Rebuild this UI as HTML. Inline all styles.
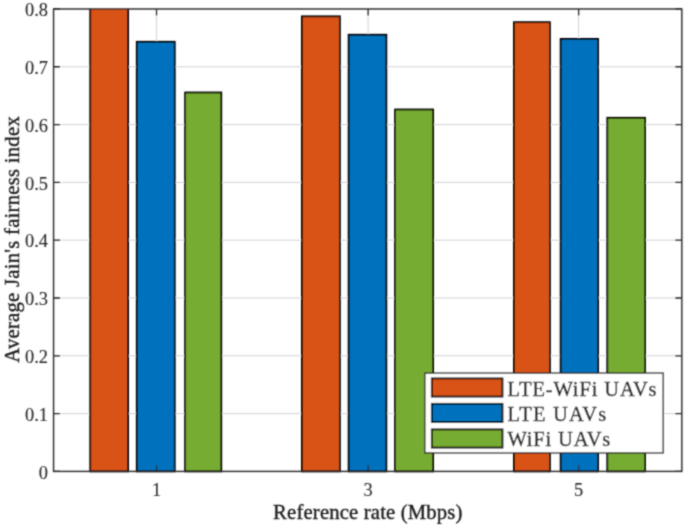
<!DOCTYPE html>
<html><head><meta charset="utf-8"><style>
html,body{margin:0;padding:0;background:#fff;width:685px;height:528px;overflow:hidden}
svg{display:block}
#w{width:685px;height:528px}
</style></head><body><div id="w">
<svg width="685" height="528" viewBox="0 0 685 528">
<defs><filter id="b" x="0" y="0" width="100%" height="100%" filterUnits="userSpaceOnUse"><feConvolveMatrix order="3" kernelMatrix="1 2 1 2 8 2 1 2 1" edgeMode="duplicate"/></filter></defs>
<rect width="685" height="528" fill="#fff"/>
<g filter="url(#b)">
<path d="M53.55 413.60H681.80 M53.55 355.79H681.80 M53.55 297.99H681.80 M53.55 240.19H681.80 M53.55 182.38H681.80 M53.55 124.58H681.80 M53.55 66.77H681.80 M156.52 8.97V471.40 M368.14 8.97V471.40 M578.64 8.97V471.40" stroke="#d2d2d2" stroke-width="1" fill="none"/>
<clipPath id="c"><rect x="0" y="8.97" width="685" height="528"/></clipPath><g clip-path="url(#c)">
<rect x="90.24" y="4.00" width="37.86" height="467.40" fill="#D95319" stroke="#000" stroke-width="1.8"/>
<rect x="136.77" y="41.79" width="37.97" height="429.61" fill="#0072BD" stroke="#000" stroke-width="1.8"/>
<rect x="185.13" y="92.50" width="36.14" height="378.90" fill="#77AC30" stroke="#000" stroke-width="1.8"/>
<rect x="301.90" y="16.35" width="37.96" height="455.05" fill="#D95319" stroke="#000" stroke-width="1.8"/>
<rect x="348.62" y="34.75" width="37.71" height="436.65" fill="#0072BD" stroke="#000" stroke-width="1.8"/>
<rect x="395.08" y="109.50" width="38.04" height="361.90" fill="#77AC30" stroke="#000" stroke-width="1.8"/>
<rect x="513.93" y="22.20" width="35.96" height="449.20" fill="#D95319" stroke="#000" stroke-width="1.8"/>
<rect x="560.65" y="38.90" width="37.41" height="432.50" fill="#0072BD" stroke="#000" stroke-width="1.8"/>
<rect x="607.29" y="117.80" width="37.67" height="353.60" fill="#77AC30" stroke="#000" stroke-width="1.8"/>
</g>
<path d="M53.55 471.40h6.5 M681.80 471.40h-6.5 M53.55 413.60h6.5 M681.80 413.60h-6.5 M53.55 355.79h6.5 M681.80 355.79h-6.5 M53.55 297.99h6.5 M681.80 297.99h-6.5 M53.55 240.19h6.5 M681.80 240.19h-6.5 M53.55 182.38h6.5 M681.80 182.38h-6.5 M53.55 124.58h6.5 M681.80 124.58h-6.5 M53.55 66.77h6.5 M681.80 66.77h-6.5 M53.55 8.97h6.5 M681.80 8.97h-6.5 M156.52 471.40v-6.5 M156.52 8.97v6.5 M368.14 471.40v-6.5 M368.14 8.97v6.5 M578.64 471.40v-6.5 M578.64 8.97v6.5" stroke="#262626" stroke-width="1.3" fill="none"/>
<rect x="53.55" y="8.97" width="628.25" height="462.43" fill="none" stroke="#262626" stroke-width="1.4"/>
<text x="48.0" y="478.70" text-anchor="end" font-size="18.4" font-family="Liberation Serif" fill="#262626" stroke="#262626" stroke-width="0.1">0</text>
<text x="48.0" y="420.90" text-anchor="end" font-size="18.4" font-family="Liberation Serif" fill="#262626" stroke="#262626" stroke-width="0.1">0.1</text>
<text x="48.0" y="363.09" text-anchor="end" font-size="18.4" font-family="Liberation Serif" fill="#262626" stroke="#262626" stroke-width="0.1">0.2</text>
<text x="48.0" y="305.29" text-anchor="end" font-size="18.4" font-family="Liberation Serif" fill="#262626" stroke="#262626" stroke-width="0.1">0.3</text>
<text x="48.0" y="247.49" text-anchor="end" font-size="18.4" font-family="Liberation Serif" fill="#262626" stroke="#262626" stroke-width="0.1">0.4</text>
<text x="48.0" y="189.68" text-anchor="end" font-size="18.4" font-family="Liberation Serif" fill="#262626" stroke="#262626" stroke-width="0.1">0.5</text>
<text x="48.0" y="131.88" text-anchor="end" font-size="18.4" font-family="Liberation Serif" fill="#262626" stroke="#262626" stroke-width="0.1">0.6</text>
<text x="48.0" y="74.07" text-anchor="end" font-size="18.4" font-family="Liberation Serif" fill="#262626" stroke="#262626" stroke-width="0.1">0.7</text>
<text x="48.0" y="16.27" text-anchor="end" font-size="18.4" font-family="Liberation Serif" fill="#262626" stroke="#262626" stroke-width="0.1">0.8</text>
<text x="156.52" y="495.8" text-anchor="middle" font-size="18.4" font-family="Liberation Serif" fill="#262626" stroke="#262626" stroke-width="0.1">1</text>
<text x="368.14" y="495.8" text-anchor="middle" font-size="18.4" font-family="Liberation Serif" fill="#262626" stroke="#262626" stroke-width="0.1">3</text>
<text x="578.64" y="495.8" text-anchor="middle" font-size="18.4" font-family="Liberation Serif" fill="#262626" stroke="#262626" stroke-width="0.1">5</text>
<text x="367.8" y="518.6" text-anchor="middle" font-size="20.7" textLength="189.35" lengthAdjust="spacing" font-family="Liberation Serif" fill="#1a1a1a" stroke="#1a1a1a" stroke-width="0.34">Reference rate (Mbps)</text>
<text transform="translate(19,239.5) rotate(-90)" x="0" y="0" text-anchor="middle" font-size="20.7" textLength="246.5" lengthAdjust="spacing" font-family="Liberation Serif" fill="#1a1a1a" stroke="#1a1a1a" stroke-width="0.34">Average Jain's fairness index</text>
<rect x="424.85" y="373.1" width="238.25" height="79.80" fill="#fff" stroke="#262626" stroke-width="1.3"/>
<rect x="431.8" y="378.40" width="70.70" height="18.2" fill="#D95319" stroke="#000" stroke-width="1.8"/>
<text x="507.5" y="395.90" font-size="20.5" textLength="149.1" lengthAdjust="spacing" font-family="Liberation Serif" fill="#1a1a1a" stroke="#1a1a1a" stroke-width="0.34">LTE-WiFi UAVs</text>
<rect x="431.8" y="403.80" width="70.70" height="18.2" fill="#0072BD" stroke="#000" stroke-width="1.8"/>
<text x="507.5" y="421.20" font-size="20.5" textLength="98.8" lengthAdjust="spacing" font-family="Liberation Serif" fill="#1a1a1a" stroke="#1a1a1a" stroke-width="0.34">LTE UAVs</text>
<rect x="431.8" y="429.40" width="70.70" height="18.2" fill="#77AC30" stroke="#000" stroke-width="1.8"/>
<text x="507.5" y="446.20" font-size="20.5" textLength="102.8" lengthAdjust="spacing" font-family="Liberation Serif" fill="#1a1a1a" stroke="#1a1a1a" stroke-width="0.34">WiFi UAVs</text>
</g></svg>
</div></body></html>
